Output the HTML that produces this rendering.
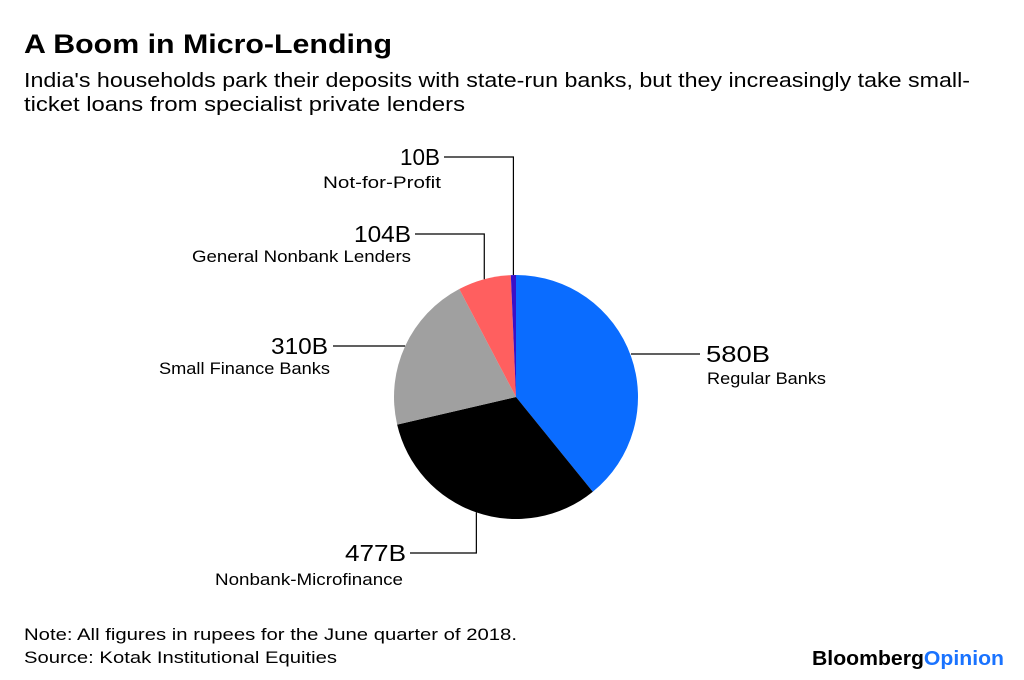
<!DOCTYPE html>
<html><head><meta charset="utf-8"><style>
body{margin:0;width:1024px;height:680px;background:#fff;font-family:"Liberation Sans",sans-serif;overflow:hidden}
svg{position:absolute;left:0;top:0}
</style></head><body>
<svg width="1024" height="680">
<text x="24" y="53" font-size="27" font-weight="bold" fill="#000" textLength="368" lengthAdjust="spacingAndGlyphs">A Boom in Micro-Lending</text>
<text x="24" y="87" font-size="20" fill="#000" textLength="946" lengthAdjust="spacingAndGlyphs">India's households park their deposits with state-run banks, but they increasingly take small-</text>
<text x="24" y="111" font-size="20" fill="#000" textLength="441" lengthAdjust="spacingAndGlyphs">ticket loans from specialist private lenders</text>
<g id="pie"></g>
<g id="labels"></g>
<text x="24" y="640" font-size="17" fill="#000" textLength="493" lengthAdjust="spacingAndGlyphs">Note: All figures in rupees for the June quarter of 2018.</text>
<text x="24" y="663" font-size="17" fill="#000" textLength="313" lengthAdjust="spacingAndGlyphs">Source: Kotak Institutional Equities</text>
<text x="812" y="665" font-size="20" font-weight="bold" textLength="192" lengthAdjust="spacingAndGlyphs"><tspan fill="#000">Bloomberg</tspan><tspan fill="#1a73ff">Opinion</tspan></text>
</svg>
<script>
const categories=["Regular Banks","Nonbank-Microfinance","Small Finance Banks","General Nonbank Lenders","Not-for-Profit"];
const values=[580,477,310,104,10];
const valueLabels=["580B","477B","310B","104B","10B"];
const colors=["#0a6cff","#000000","#a0a0a0","#ff5f5f","#3a10c8"];
const NS="http://www.w3.org/2000/svg";
const cx=516,cy=397,r=122;
const total=values.reduce((a,b)=>a+b,0);
function pt(a,rr){return [cx+rr*Math.sin(a),cy-rr*Math.cos(a)];}
const pie=document.getElementById('pie');
let a0=0;const mids=[];
values.forEach((v,i)=>{
  const a1=a0+v/total*2*Math.PI;
  const p0=pt(a0,r),p1=pt(a1,r);
  const large=(a1-a0)>Math.PI?1:0;
  const p=document.createElementNS(NS,'path');
  p.setAttribute('d',`M${cx},${cy}L${p0[0]},${p0[1]}A${r},${r} 0 ${large} 1 ${p1[0]},${p1[1]}Z`);
  p.setAttribute('fill',colors[i]);
  
  
  pie.appendChild(p);
  mids.push((a0+a1)/2);
  a0=a1;
});
const layout=[
  {lx:700,ly:354,tx:706,ty:362,nx:707,ny:384,anchor:"start",vw:64,nw:119},
  {lx:410,ly:553,tx:406,ty:561,nx:403,ny:585,anchor:"end",vw:61,nw:188},
  {lx:333,ly:346,tx:328,ty:354,nx:330,ny:374,anchor:"end",vw:57,nw:171},
  {lx:415,ly:234,tx:411,ty:242,nx:411,ny:262,anchor:"end",vw:57,nw:219},
  {lx:444,ly:157,tx:440,ty:165,nx:441,ny:188,anchor:"end",vw:40,nw:118}
];
const lab=document.getElementById('labels');
layout.forEach((L,i)=>{
  const m=mids[i];const e=pt(m,r);
  const vertical=Math.abs(Math.cos(m))>0.75;
  const d=vertical?`M${L.lx},${L.ly}H${e[0]}V${e[1]}`:`M${L.lx},${L.ly}H${e[0]}`;
  const p=document.createElementNS(NS,'path');
  p.setAttribute('d',d);p.setAttribute('stroke','#000');p.setAttribute('stroke-width','1.2');p.setAttribute('fill','none');
  
  
  lab.appendChild(p);
  const t=document.createElementNS(NS,'text');
  t.setAttribute('x',L.tx);t.setAttribute('y',L.ty);t.setAttribute('font-size','23');t.setAttribute('text-anchor',L.anchor);
  t.setAttribute('textLength',L.vw);t.setAttribute('lengthAdjust','spacingAndGlyphs');
  t.textContent=valueLabels[i];
  
  
  lab.appendChild(t);
  const n=document.createElementNS(NS,'text');
  n.setAttribute('x',L.nx);n.setAttribute('y',L.ny);n.setAttribute('font-size','16.5');n.setAttribute('text-anchor',L.anchor);
  n.setAttribute('textLength',L.nw);n.setAttribute('lengthAdjust','spacingAndGlyphs');
  n.textContent=categories[i];
  
  
  lab.appendChild(n);
});
</script>
</body></html>
